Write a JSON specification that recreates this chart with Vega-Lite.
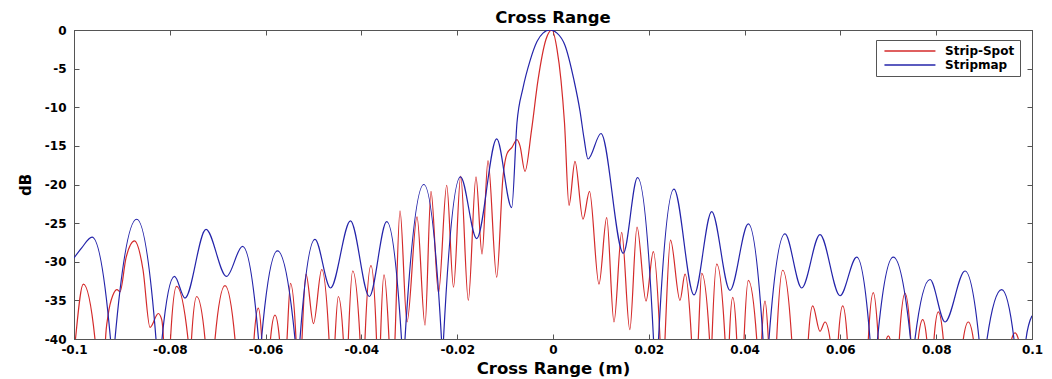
{
"$schema":"https://vega.github.io/schema/vega-lite/v6.json",
"width":958,"height":309,
"autosize":"none",
"padding":{"left":74,"top":30,"right":20,"bottom":40},
"background":"white",
"config":{"view":{"stroke":"#555","strokeWidth":1},"font":"DejaVu Sans"},
"title":{"text":"Cross Range","fontSize":16.5,"fontWeight":"bold","color":"black","offset":-2,"anchor":"middle"},
"datasets":{
"blue":[
{"x":-0.1,"db":-29.5},{"x":-0.09839,"db":-28.2},{"x":-0.09624,"db":-26.8},{"x":-0.09238,"db":-40},{"x":-0.09191,"db":-50},{"x":-0.09144,"db":-40},{"x":-0.08691,"db":-24.5},{"x":-0.08288,"db":-40},{"x":-0.08226,"db":-50},{"x":-0.08163,"db":-40},{"x":-0.07902,"db":-31.9},{"x":-0.07683,"db":-34.7},{"x":-0.07244,"db":-25.8},{"x":-0.06816,"db":-31.9},{"x":-0.06482,"db":-28.0},{"x":-0.06148,"db":-40},{"x":-0.06117,"db":-48},{"x":-0.06086,"db":-40},{"x":-0.05752,"db":-28.6},{"x":-0.05386,"db":-40},{"x":-0.05334,"db":-50},{"x":-0.05282,"db":-40},{"x":-0.04969,"db":-27.1},{"x":-0.04645,"db":-33.4},{"x":-0.04228,"db":-24.7},{"x":-0.03835,"db":-34.5},{"x":-0.03472,"db":-24.8},{"x":-0.03163,"db":-40},{"x":-0.03126,"db":-48},{"x":-0.0309,"db":-40},{"x":-0.02697,"db":-20.0},{"x":-0.02328,"db":-40},{"x":-0.02307,"db":-46},{"x":-0.02286,"db":-40},{"x":-0.01931,"db":-19.0},{"x":-0.01593,"db":-27.0},{"x":-0.01175,"db":-14.1},{"x":-0.00862,"db":-23.0},{"x":-0.00752,"db":-12},{"x":-0.00626,"db":-7.5},{"x":-0.0048,"db":-4},{"x":-0.00334,"db":-1.5},{"x":-0.00209,"db":-0.4},{"x":-0.00063,"db":0},{"x":0.00084,"db":-0.4},{"x":0.00251,"db":-2},{"x":0.00438,"db":-6.5},{"x":0.00564,"db":-10.5},{"x":0.00647,"db":-14},{"x":0.00731,"db":-16.7},{"x":0.01002,"db":-13.4},{"x":0.01468,"db":-28.9},{"x":0.01764,"db":-19.1},{"x":0.02098,"db":-40},{"x":0.0215,"db":-48},{"x":0.02203,"db":-40},{"x":0.02526,"db":-20.6},{"x":0.02944,"db":-34.3},{"x":0.03313,"db":-23.5},{"x":0.03695,"db":-33.7},{"x":0.04077,"db":-25.1},{"x":0.04384,"db":-40},{"x":0.04447,"db":-50},{"x":0.04509,"db":-40},{"x":0.04843,"db":-26.4},{"x":0.05192,"db":-33.4},{"x":0.05574,"db":-26.5},{"x":0.05992,"db":-34.4},{"x":0.0634,"db":-29.4},{"x":0.06618,"db":-40},{"x":0.06696,"db":-50},{"x":0.06775,"db":-40},{"x":0.07104,"db":-29.4},{"x":0.07464,"db":-40},{"x":0.0751,"db":-48},{"x":0.07557,"db":-40},{"x":0.07871,"db":-32.3},{"x":0.08184,"db":-37.8},{"x":0.08601,"db":-31.2},{"x":0.08894,"db":-40},{"x":0.08977,"db":-52},{"x":0.09061,"db":-40},{"x":0.09367,"db":-33.6},{"x":0.09624,"db":-40},{"x":0.0975,"db":-55},{"x":0.09875,"db":-40},{"x":0.1,"db":-37}
],
"red":[
{"x":-0.1,"db":-42},{"x":-0.09969,"db":-40},{"x":-0.09806,"db":-32.9},{"x":-0.09562,"db":-40},{"x":-0.0952,"db":-55},{"x":-0.09395,"db":-55},{"x":-0.09342,"db":-40},{"x":-0.0929,"db":-37},{"x":-0.09186,"db":-34.3},{"x":-0.09102,"db":-33.6},{"x":-0.0904,"db":-33.9},{"x":-0.08914,"db":-29.5},{"x":-0.08737,"db":-27.3},{"x":-0.0856,"db":-31},{"x":-0.08413,"db":-38.5},{"x":-0.0824,"db":-36.7},{"x":-0.08169,"db":-37.5},{"x":-0.08132,"db":-40},{"x":-0.08059,"db":-55},{"x":-0.07985,"db":-40},{"x":-0.0786,"db":-33.2},{"x":-0.0762,"db":-40},{"x":-0.07583,"db":-50},{"x":-0.07547,"db":-40},{"x":-0.07438,"db":-34.5},{"x":-0.07265,"db":-40},{"x":-0.07223,"db":-55},{"x":-0.07098,"db":-55},{"x":-0.07056,"db":-40},{"x":-0.06848,"db":-33.1},{"x":-0.06639,"db":-40},{"x":-0.06576,"db":-55},{"x":-0.06305,"db":-55},{"x":-0.06242,"db":-40},{"x":-0.06152,"db":-36.0},{"x":-0.06081,"db":-40},{"x":-0.05992,"db":-55},{"x":-0.05898,"db":-40},{"x":-0.05804,"db":-36.9},{"x":-0.0571,"db":-40},{"x":-0.05637,"db":-50},{"x":-0.05553,"db":-40},{"x":-0.0548,"db":-32.8},{"x":-0.05365,"db":-40},{"x":-0.05303,"db":-50},{"x":-0.0524,"db":-40},{"x":-0.05157,"db":-31.6},{"x":-0.05,"db":-38.0},{"x":-0.04829,"db":-31.0},{"x":-0.04676,"db":-40},{"x":-0.04614,"db":-50},{"x":-0.04551,"db":-40},{"x":-0.04482,"db":-34.5},{"x":-0.04378,"db":-40},{"x":-0.04326,"db":-50},{"x":-0.04273,"db":-40},{"x":-0.04182,"db":-31.2},{"x":-0.04029,"db":-40},{"x":-0.03977,"db":-50},{"x":-0.03925,"db":-40},{"x":-0.038,"db":-30.5},{"x":-0.03685,"db":-40},{"x":-0.03643,"db":-50},{"x":-0.03601,"db":-40},{"x":-0.03528,"db":-31.7},{"x":-0.03424,"db":-40},{"x":-0.03361,"db":-50},{"x":-0.03299,"db":-40},{"x":-0.03194,"db":-23.4},{"x":-0.03048,"db":-37.8},{"x":-0.02839,"db":-24.2},{"x":-0.02672,"db":-38.2},{"x":-0.02547,"db":-20.9},{"x":-0.0239,"db":-34},{"x":-0.02219,"db":-20.1},{"x":-0.02077,"db":-33.3},{"x":-0.01927,"db":-18.9},{"x":-0.01768,"db":-35.0},{"x":-0.01608,"db":-19.0},{"x":-0.01482,"db":-29},{"x":-0.01357,"db":-16.9},{"x":-0.01175,"db":-32.0},{"x":-0.01044,"db":-19},{"x":-0.0096,"db":-16.0},{"x":-0.00856,"db":-15.2},{"x":-0.00752,"db":-14.2},{"x":-0.00689,"db":-15},{"x":-0.00585,"db":-18.3},{"x":-0.00449,"db":-13},{"x":-0.00313,"db":-6.5},{"x":-0.00146,"db":-1.2},{"x":-0.00021,"db":0},{"x":0.00084,"db":-2.5},{"x":0.00167,"db":-6.5},{"x":0.0024,"db":-12},{"x":0.00334,"db":-22.7},{"x":0.00459,"db":-17.0},{"x":0.00626,"db":-24.5},{"x":0.00762,"db":-20.9},{"x":0.0096,"db":-32.9},{"x":0.01121,"db":-24.3},{"x":0.01273,"db":-37.8},{"x":0.01434,"db":-26.2},{"x":0.01603,"db":-38.8},{"x":0.01754,"db":-25.5},{"x":0.01942,"db":-35.1},{"x":0.02094,"db":-28.7},{"x":0.02234,"db":-40},{"x":0.02286,"db":-48},{"x":0.02338,"db":-40},{"x":0.02453,"db":-27.2},{"x":0.02651,"db":-35.0},{"x":0.02756,"db":-31.6},{"x":0.02891,"db":-40},{"x":0.02965,"db":-50},{"x":0.03033,"db":-40},{"x":0.03104,"db":-31.5},{"x":0.03267,"db":-40},{"x":0.03292,"db":-45},{"x":0.03319,"db":-40},{"x":0.03418,"db":-30.3},{"x":0.03591,"db":-40},{"x":0.03633,"db":-50},{"x":0.03681,"db":-40},{"x":0.03752,"db":-34.6},{"x":0.03835,"db":-40},{"x":0.0391,"db":-55},{"x":0.03988,"db":-40},{"x":0.04077,"db":-32.4},{"x":0.04253,"db":-40},{"x":0.04301,"db":-50},{"x":0.04357,"db":-40},{"x":0.04426,"db":-35.1},{"x":0.04495,"db":-40},{"x":0.04583,"db":-55},{"x":0.0467,"db":-40},{"x":0.04795,"db":-31.1},{"x":0.04983,"db":-40},{"x":0.05052,"db":-55},{"x":0.05261,"db":-55},{"x":0.0533,"db":-40},{"x":0.05422,"db":-35.7},{"x":0.05574,"db":-39.0},{"x":0.05679,"db":-37.8},{"x":0.05783,"db":-40},{"x":0.05866,"db":-55},{"x":0.05956,"db":-40},{"x":0.06048,"db":-35.7},{"x":0.06144,"db":-40},{"x":0.06221,"db":-55},{"x":0.06514,"db":-55},{"x":0.06583,"db":-40},{"x":0.06687,"db":-34.0},{"x":0.06791,"db":-40},{"x":0.06869,"db":-50},{"x":0.06963,"db":-40},{"x":0.07,"db":-39.6},{"x":0.07036,"db":-40},{"x":0.07119,"db":-55},{"x":0.0723,"db":-40},{"x":0.07349,"db":-34.1},{"x":0.07468,"db":-40},{"x":0.07547,"db":-55},{"x":0.07626,"db":-40},{"x":0.07718,"db":-37.5},{"x":0.07802,"db":-40},{"x":0.07871,"db":-55},{"x":0.07954,"db":-40},{"x":0.08044,"db":-36.5},{"x":0.08148,"db":-40},{"x":0.08246,"db":-55},{"x":0.08455,"db":-55},{"x":0.08566,"db":-40},{"x":0.0867,"db":-37.8},{"x":0.08775,"db":-40},{"x":0.08914,"db":-55},{"x":0.09436,"db":-55},{"x":0.09576,"db":-40},{"x":0.09645,"db":-39.2},{"x":0.09714,"db":-40},{"x":0.09791,"db":-55},{"x":0.1,"db":-55}
]
},
"layer":[
{"data":{"name":"red"},
 "transform":[{"calculate":"'Strip-Spot'","as":"series"}],
 "mark":{"type":"line","clip":true,"interpolate":"monotone","strokeWidth":1.2},
 "encoding":{
  "x":{"field":"x","type":"quantitative","scale":{"domain":[-0.1,0.1],"nice":false,"zero":false},
   "axis":{"orient":"bottom","values":[-0.1,-0.08,-0.06,-0.04,-0.02,0,0.02,0.04,0.06,0.08,0.1],"labelExpr":"(datum.value < 0 ? '-' : '') + format(abs(datum.value), '~g')","grid":false,"tickSize":-5,"tickColor":"#555","domainColor":"#555","labelFont":"DejaVu Sans","labelFontWeight":"bold","labelFontSize":12,"labelColor":"black","labelPadding":10,"title":"Cross Range (m)","titleFont":"DejaVu Sans","titleFontSize":16.5,"titleFontWeight":"bold","titleColor":"black","titlePadding":5,"labelFlush":false}},
  "y":{"field":"db","type":"quantitative","scale":{"domain":[-40,0],"nice":false,"zero":false},
   "axis":{"orient":"left","values":[0,-5,-10,-15,-20,-25,-30,-35,-40],"labelExpr":"(datum.value < 0 ? '-' : '') + format(abs(datum.value), '~g')","grid":false,"tickSize":-5,"tickColor":"#555","domainColor":"#555","labelFont":"DejaVu Sans","labelFontWeight":"bold","labelFontSize":12,"labelColor":"black","labelPadding":13,"title":"dB","titleFont":"DejaVu Sans","titleFontSize":15,"titleFontWeight":"bold","titleColor":"black","titlePadding":11}},
  "color":{"field":"series","type":"nominal","scale":{"domain":["Strip-Spot","Stripmap"],"range":["#d42a2a","#2424aa"]},
   "legend":{"orient":"none","legendX":802,"legendY":10,"title":null,"symbolType":"M-1,0H19","symbolSize":26,"symbolStrokeWidth":1.3,"labelFontSize":12,"labelFont":"DejaVu Sans","labelFontWeight":"bold","labelColor":"black","strokeColor":"#555","fillColor":"white","padding":5,"rowPadding":2,"labelOffset":52}}
 }},
{"data":{"name":"blue"},
 "transform":[{"calculate":"'Stripmap'","as":"series"}],
 "mark":{"type":"line","clip":true,"interpolate":"monotone","strokeWidth":1.2},
 "encoding":{
  "x":{"field":"x","type":"quantitative","axis":null},
  "y":{"field":"db","type":"quantitative","axis":null},
  "color":{"field":"series","type":"nominal"}
 }},
{"data":{"values":[{"x":0,"db":0}]},
 "mark":{"type":"point","opacity":0},
 "encoding":{
  "x":{"field":"x","type":"quantitative","axis":{"orient":"top","values":[-0.1,-0.08,-0.06,-0.04,-0.02,0,0.02,0.04,0.06,0.08,0.1],"labels":false,"grid":false,"tickSize":-5,"tickColor":"#555","domainColor":"#555","title":null}},
  "y":{"field":"db","type":"quantitative","axis":{"orient":"right","values":[0,-5,-10,-15,-20,-25,-30,-35,-40],"labels":false,"grid":false,"tickSize":-5,"tickColor":"#555","domainColor":"#555","title":null}}
 }}
],
"resolve":{"axis":{"x":"independent","y":"independent"}}
}
